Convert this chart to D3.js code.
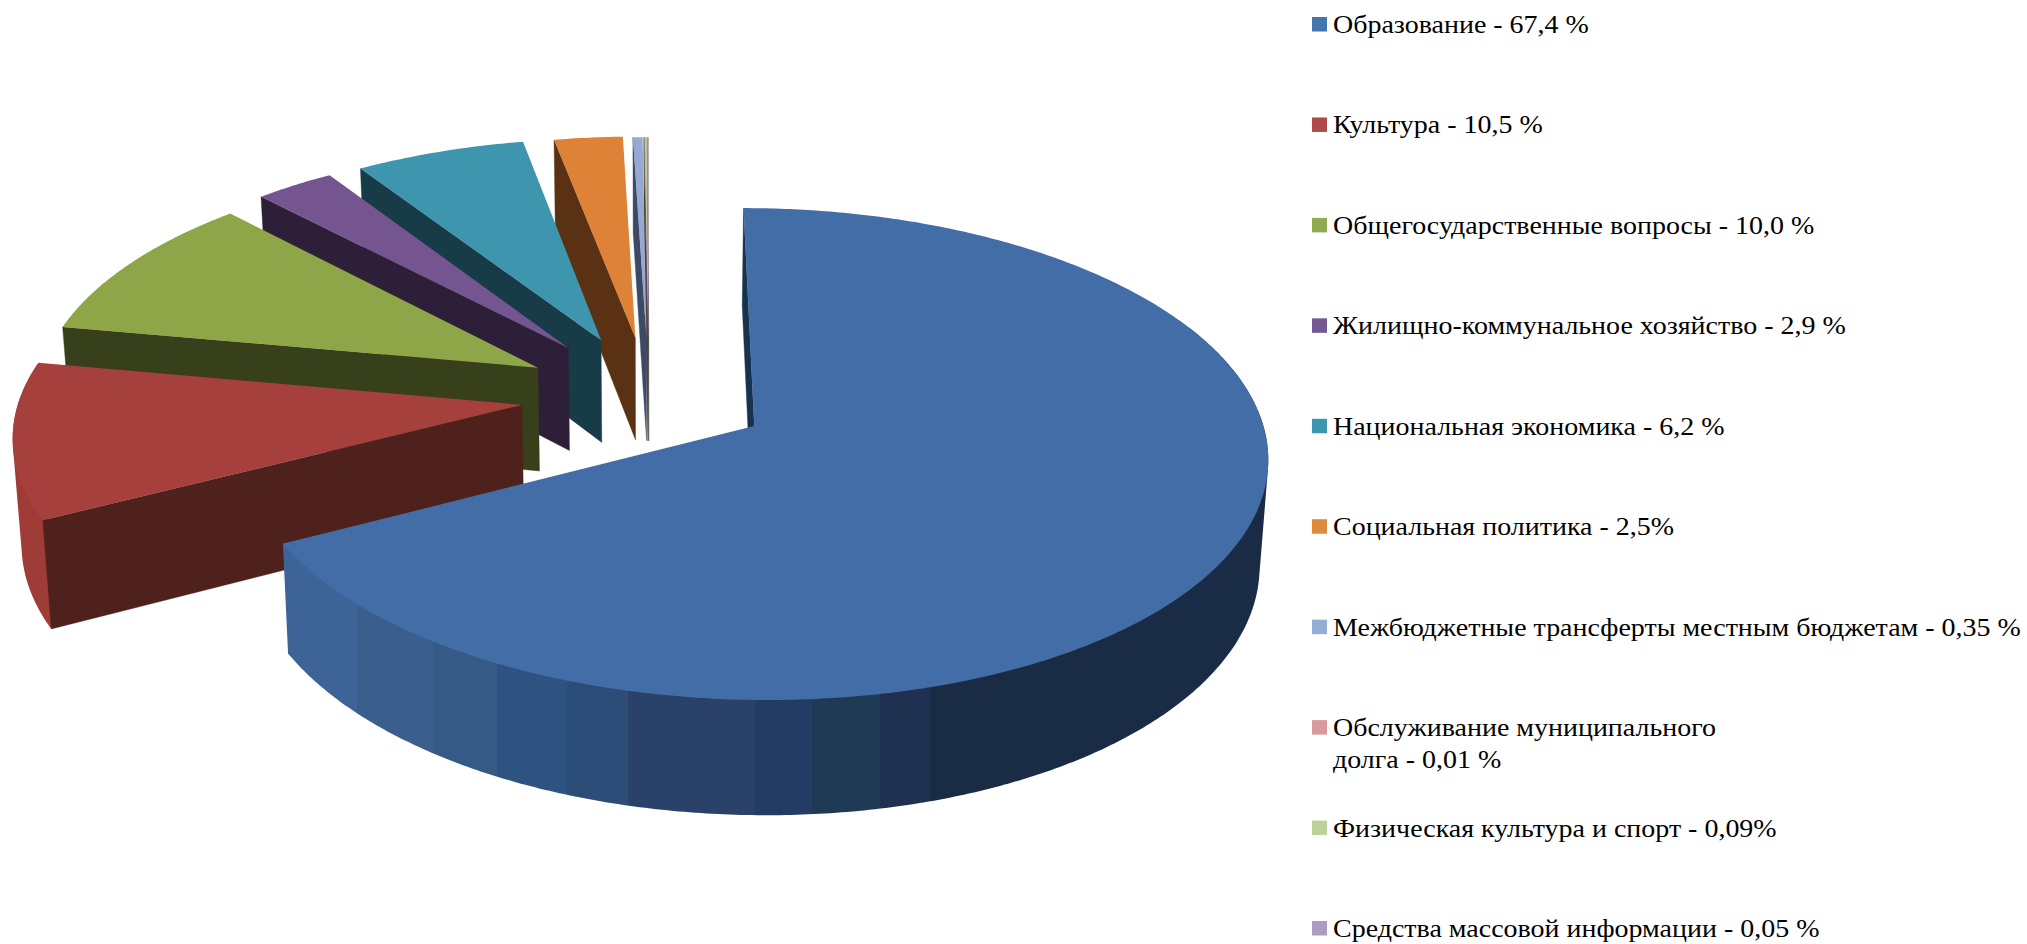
<!DOCTYPE html>
<html lang="ru">
<head>
<meta charset="utf-8">
<script src="https://cdn.jsdelivr.net/npm/d3@7"></script>
<style>
html,body{margin:0;padding:0;background:#fff}
svg{display:block}
text{font-family:"Liberation Serif","Times New Roman",serif;fill:#000}
</style>
</head>
<body>
<svg id="c" width="2027" height="944"></svg>
<script>
// ---- data ----
const categories = [
  "Образование","Культура","Общегосударственные вопросы","Жилищно-коммунальное хозяйство",
  "Национальная экономика","Социальная политика","Межбюджетные трансферты местным бюджетам",
  "Обслуживание муниципального долга","Физическая культура и спорт","Средства массовой информации"
];
const values = [67.4,10.5,10.0,2.9,6.2,2.5,0.35,0.01,0.09,0.05];
const legendLines = [
  ["Образование - 67,4 %"],
  ["Культура - 10,5 %"],
  ["Общегосударственные вопросы - 10,0 %"],
  ["Жилищно-коммунальное хозяйство - 2,9 %"],
  ["Национальная экономика - 6,2 %"],
  ["Социальная политика - 2,5%"],
  ["Межбюджетные трансферты местным бюджетам - 0,35 %"],
  ["Обслуживание муниципального","долга - 0,01 %"],
  ["Физическая культура и спорт - 0,09%"],
  ["Средства массовой информации - 0,05 %"]
];
// ---- style ----
const topColors  = ["#436da6","#a5403d","#8ea548","#745590","#3e96ae","#dd8236","#95a9d3","#d89a9a","#b7c98a","#ab9dc2"];
const faceColors = ["#17324f","#4f211c","#37401a","#2c1f37","#173c48","#5a3213","#3d4a66","#5a3d3d","#4d5535","#453d55"];
const rimColors  = ["#1a2b45","#a03c38"];
const legendColors=["#4575ad","#ae4a48","#8faa50","#735893","#3c96ae","#df8a3c","#95aed6","#d89a9a","#bcd29a","#ab9dc2"];
const bandStops = [[285,"#3d6397"],[357,"#3b5f8c"],[433,"#365a86"],[497,"#2f5380"],[567,"#2c4d78"],[628,"#2a426a"],[755,"#233c64"],[812,"#1f3a55"],[880,"#1f3050"],[930,"#1a2b45"],[1300,"#1a2b45"]];
// ---- pie layout (perspective + explosion, in units of the pie radius) ----
const originX=649, originY=396, hScale=502, vScale=236, persp=0.112, shrink=0.014;
const explode=[.242,.255,.255,.265,.262,.255,.25,.25,.25,.25];

const arcs=d3.pie().sort(null).value(d=>d)(values);
function pt(i,theta,r,bottom){
  const mid=(arcs[i].startAngle+arcs[i].endAngle)/2;
  const u=explode[i]*Math.sin(mid)+r*Math.sin(theta), v=-explode[i]*Math.cos(mid)-r*Math.cos(theta);
  const den=1-persp*v;
  let x=originX+hScale*u/den, y=originY+vScale*v/den;
  if(bottom){ const d=90+0.036*y; x=originX+(x-originX)*(1-shrink); y+=d; }
  return [x,y];
}
const svg=d3.select("#c");
const defs=svg.append("defs");
const grad=defs.append("linearGradient").attr("id","bands").attr("gradientUnits","userSpaceOnUse")
  .attr("x1",285).attr("x2",1300).attr("y1",0).attr("y2",0);
d3.pairs(bandStops).forEach(([a,b])=>{
  grad.append("stop").attr("offset",(a[0]-285)/1015).attr("stop-color",a[1]);
  grad.append("stop").attr("offset",(b[0]-285)/1015).attr("stop-color",a[1]);
});
const line=d3.line();
const arcRange=(a,b,step)=>{const s=Math.max(2,Math.ceil((b-a)/step));return d3.range(s+1).map(j=>a+(b-a)*j/s);};

const order=d3.range(values.length).reverse();
const g=svg.append("g");
order.forEach(i=>{
  const a=arcs[i];
  if(a.startAngle<Math.PI*1.5){
    // outer wall: hull of both rims, the inside of the hull is covered by the top surface
    const ths=arcRange(Math.max(a.startAngle,Math.PI*0.36),a.endAngle,0.01);
    const hull=d3.polygonHull(ths.map(t=>pt(i,t,1)).concat(ths.map(t=>pt(i,t,1,true))));
    g.append("path").attr("fill",i===0?"url(#bands)":rimColors[i]).attr("d",line(hull)+"Z");
  }
  g.append("path").attr("fill",faceColors[i]).attr("stroke",faceColors[i]).attr("stroke-width",.4)
    .attr("d",line([pt(i,0,0),pt(i,a.startAngle,1),pt(i,a.startAngle,1,true),pt(i,0,0,true)])+"Z");
  const top=[pt(i,0,0)].concat(arcRange(a.startAngle,a.endAngle,0.01).map(t=>pt(i,t,1)));
  g.append("path").attr("fill",topColors[i]).attr("d",line(top)+"Z");
});

// ---- legend ----
const legendY=d3.scaleLinear().domain([0,9]).range([33,937]);
const lg=svg.append("g");
const fs=26;
const probe=lg.append("text").attr("font-size",fs).text(legendLines[6][0]);
const sx=688/probe.node().getComputedTextLength();
probe.remove();
legendLines.forEach((lines,i)=>{
  lg.append("rect").attr("x",1312).attr("y",legendY(i)-16).attr("width",15).attr("height",14.5).attr("fill",legendColors[i]);
  lines.forEach((s,j)=>{
    lg.append("text").attr("font-size",fs)
      .attr("transform",`translate(1333,${legendY(i)+j*31.5}) scale(${sx},1)`).text(s);
  });
});
</script>
</body>
</html>
